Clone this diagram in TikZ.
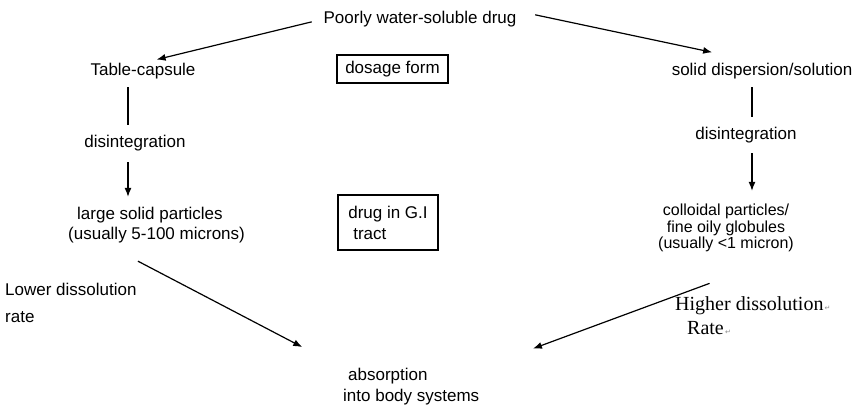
\documentclass[tikz,border=0pt]{standalone}
\usepackage{fontspec}
\setmainfont{Liberation Sans}
\newfontfamily\timesfont{Liberation Serif}
\newfontfamily\marksfont{DejaVu Sans}
\usetikzlibrary{arrows.meta,calc}

\newcommand{\retmark}{{\marksfont\fontsize{7}{7}\selectfont\color{black!45}\,↵}}

\begin{document}
\begin{tikzpicture}[x=1pt,y=-1pt,
		txt/.style={inner sep=0pt,font=\fontsize{17}{20}\selectfont},
		box/.style={draw,line width=1.2pt,inner sep=0pt,font=\fontsize{17}{21}\selectfont},
		ln/.style={line width=1.2pt},
		arr/.style={line width=1.2pt,-{Latex[length=9pt,width=7pt]}}]
			\useasboundingbox (0,0) rectangle (856,406);
			\coordinate (lx) at (128,0);
			\coordinate (rx) at (752,0);
			\node[txt] (drug) at (420,19) {Poorly water-soluble drug};
			\node[txt] (tab) at (143,71) {Table-capsule};
			\node[txt] (sds) at (762,71) {solid dispersion/solution};
			\node[box,minimum width=111pt,minimum height=28pt] (dose) at (392.5,69) {dosage form};
			\node[txt] (dis1) at (135,143) {disintegration};
			\node[txt] (dis2) at (746,135) {disintegration};
			\node[txt,anchor=west,align=left] (large) at (68,225) {\hspace*{9pt}large solid particles\\(usually 5-100 microns)};
			\node[box,minimum width=100pt,minimum height=55pt,align=left] (gi) at (388,222.5) {drug in G.I\\\hspace*{5pt}tract};
			\node[txt,align=center,font=\fontsize{16}{16.5}\selectfont] (coll) at (726,228) {colloidal particles/\\fine oily globules\\(usually <1 micron)};
			\node[txt,anchor=west,align=left,font=\fontsize{17}{27}\selectfont] (lower) at (5,303) {Lower dissolution\\rate};
			\node[txt,anchor=west,align=left,font=\timesfont\fontsize{20}{24}\selectfont] (higher) at (675,316) {Higher dissolution\retmark\\\hspace*{12pt}Rate\retmark};
			\node[txt,anchor=west,align=left,font=\fontsize{17}{21}\selectfont] (abs) at (343,387) {\hspace*{5pt}absorption\\into body systems};
			% dosage form
			\draw[arr,shorten <=12pt,shorten >=14pt] (drug.west) -- (tab.north);
			\draw[arr,shorten <=19pt,shorten >=51pt] (drug.north east) -- (sds.north);
			% drug in G.I tract
			\draw[ln,shorten <=8pt,shorten >=10pt] (tab.south -| lx) -- (dis1.north -| lx);
			\draw[arr,shorten <=11pt,shorten >=10pt] (dis1.south -| lx) -- (large.north -| lx);
			\draw[ln,shorten <=8pt,shorten >=10pt] (sds.south -| rx) -- (dis2.north -| rx);
			\draw[arr,shorten <=10pt,shorten >=13pt] (dis2.south -| rx) -- (coll.north -| rx);
			% absorption
			\draw[arr,shorten <=39pt,shorten >=46pt] ($(large.south west)!.2!(large.south east)$) -- (abs.north west);
			\draw[arr,shorten <=90pt,shorten >=57pt] (coll.south east) -- (abs.north east);
		\end{tikzpicture}
\end{document}
